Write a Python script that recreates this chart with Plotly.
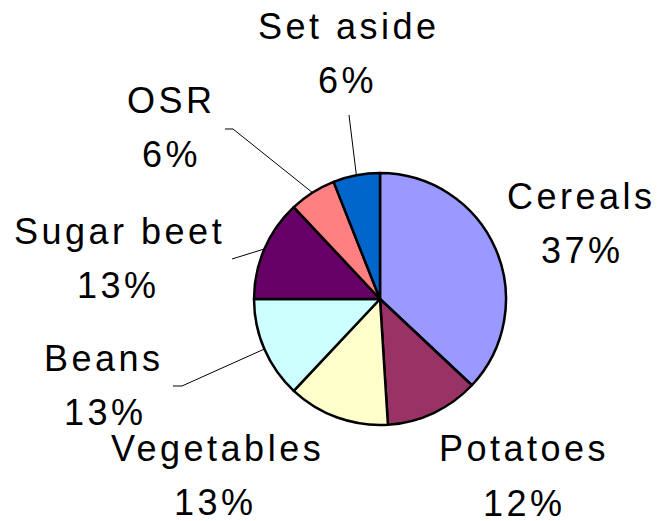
import math
import plotly.graph_objects as go

# ---- data ----
categories = ["Cereals", "Potatoes", "Vegetables", "Beans", "Sugar beet", "OSR", "Set aside"]
shares = [37, 12, 13, 13, 13, 6, 6]
colors = ["#9999FF", "#993366", "#FFFFCC", "#CCFFFF", "#660066", "#FF8080", "#0066CC"]

# ---- layout (pixels) ----
W, H = 659, 521
CX, CY, R = 380, 299, 126

name_pos = {
    "Cereals": (581, 196), "Potatoes": (524, 448), "Vegetables": (217, 448),
    "Beans": (104, 358), "Sugar beet": (119, 231), "OSR": (171, 100), "Set aside": (349, 26),
}
pct_pos = {
    "Cereals": (582, 250), "Potatoes": (524, 503), "Vegetables": (215, 502),
    "Beans": (105, 412), "Sugar beet": (118, 285), "OSR": (171, 154), "Set aside": (347, 81),
}
leader_start = {
    "Set aside": [(349, 115)],
    "OSR": [(225, 129), (233, 129)],
    "Sugar beet": [(232, 259)],
    "Beans": [(173, 386), (182, 386)],
}

def px(x, y):
    return x / W, 1 - y / H

fig = go.Figure()
fig.add_trace(go.Pie(
    labels=categories, values=shares, sort=False, direction="clockwise", rotation=0,
    marker=dict(colors=colors, line=dict(color="black", width=2.5)),
    textinfo="none", showlegend=False, hoverinfo="label+percent",
    domain=dict(x=[(CX - R) / W, (CX + R) / W], y=[(H - CY - R) / H, (H - CY + R) / H]),
))

total = sum(shares)
cum = 0
shapes = []
annotations = []
font = dict(family="Liberation Sans, Arial, sans-serif", size=36, color="black")
for cat, v in zip(categories, shares):
    mid = 2 * math.pi * (cum + v / 2) / total
    cum += v
    if cat in leader_start:
        pts = list(leader_start[cat]) + [(CX + R * math.sin(mid), CY - R * math.cos(mid))]
        path = "M " + " L ".join(f"{px(x, y)[0]:.5f},{px(x, y)[1]:.5f}" for x, y in pts)
        shapes.append(dict(type="path", path=path, xref="paper", yref="paper",
                           line=dict(color="black", width=1)))
    for pos, txt in ((name_pos[cat], cat), (pct_pos[cat], f"{v}%")):
        ax, ay = px(*pos)
        annotations.append(dict(
            x=ax, y=ay, xref="paper", yref="paper", showarrow=False,
            xanchor="center", yanchor="middle",
            text=f'<span style="letter-spacing:3.5px">{txt}</span>', font=font,
        ))

fig.update_layout(
    width=W, height=H, margin=dict(l=0, r=0, t=0, b=0),
    paper_bgcolor="white", plot_bgcolor="white",
    shapes=shapes, annotations=annotations,
)
fig.write_html("out.html", config={"displayModeBar": False},
               post_script="document.body.style.margin='0';")
